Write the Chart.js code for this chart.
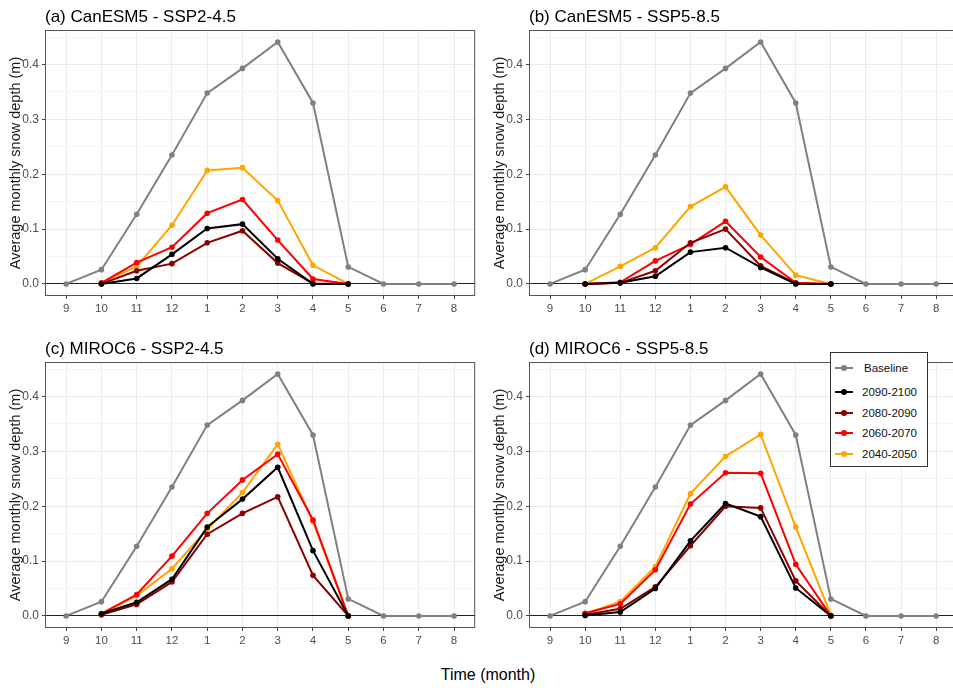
<!DOCTYPE html>
<html>
<head>
<meta charset="utf-8">
<script src="https://cdn.jsdelivr.net/npm/chart.js@4.4.1/dist/chart.umd.min.js"></script>
<style>
body { margin: 0; width: 953px; height: 688px; overflow: hidden; background: #fff; position: relative;
       font-family: "Liberation Sans", Arial, sans-serif; }
canvas { position: absolute; }
.title { position: absolute; font-size: 17px; line-height: 20px; color: #000; white-space: nowrap; }
#xtitle { position: absolute; left: 0; width: 976px; top: 665px; text-align: center; font-size: 16px; line-height: 20px; color: #000; }
#legend { position: absolute; left: 830px; top: 352px; width: 96px; height: 113px; border: 1px solid #333; background: #fff; }
.row { position: absolute; left: 0; height: 16px; width: 96px; }
.row .ln { position: absolute; left: 4px; top: 7px; width: 18px; height: 2px; }
.row .dt { position: absolute; left: 10px; top: 5px; width: 6px; height: 6px; border-radius: 50%; }
.row span { position: absolute; left: 31px; top: 0; font-size: 11.5px; line-height: 16px; color: #111; }
</style>
</head>
<body>
<canvas id="pa" width="478" height="330" style="left:0;top:0"></canvas>
<canvas id="pb" width="476" height="330" style="left:484px;top:0"></canvas>
<canvas id="pc" width="478" height="330" style="left:0;top:332px"></canvas>
<canvas id="pd" width="476" height="330" style="left:484px;top:332px"></canvas>
<div class="title" style="left:45px;top:7px">(a) CanESM5 - SSP2-4.5</div>
<div class="title" style="left:529px;top:7px">(b) CanESM5 - SSP5-8.5</div>
<div class="title" style="left:45px;top:339px">(c) MIROC6 - SSP2-4.5</div>
<div class="title" style="left:529px;top:339px">(d) MIROC6 - SSP5-8.5</div>
<div id="xtitle">Time (month)</div>
<div id="legend"></div>
<script>
// months on the x axis (Sept to Aug)
const months = ['9', '10', '11', '12', '1', '2', '3', '4', '5', '6', '7', '8'];
const yMajor = [0, 0.1, 0.2, 0.3, 0.4];
const yMinor = [0.05, 0.15, 0.25, 0.35, 0.45];

const seriesNames = ['Baseline', '2090-2100', '2080-2090', '2060-2070', '2040-2050'];
const seriesColors = ['#808080', '#000000', '#8b0000', '#ff0000', '#ffa500'];

// baseline is the same in every panel
const baseline = [0, 0.026, 0.127, 0.235, 0.348, 0.393, 0.441, 0.330, 0.031, 0, 0, 0];

// (a) CanESM5 - SSP2-4.5
const a2090 = [null, 0, 0.010, 0.054, 0.101, 0.109, 0.046, 0, 0, null, null, null];
const a2080 = [null, 0, 0.024, 0.037, 0.075, 0.097, 0.038, 0.001, 0, null, null, null];
const a2060 = [null, 0.002, 0.039, 0.067, 0.129, 0.154, 0.080, 0.009, 0, null, null, null];
const a2040 = [null, 0.002, 0.032, 0.107, 0.207, 0.212, 0.152, 0.034, 0, null, null, null];

// (b) CanESM5 - SSP5-8.5
const b2090 = [null, 0, 0.002, 0.014, 0.058, 0.066, 0.030, 0, 0, null, null, null];
const b2080 = [null, 0, 0.002, 0.024, 0.075, 0.100, 0.033, 0.001, 0, null, null, null];
const b2060 = [null, 0, 0.003, 0.042, 0.072, 0.114, 0.049, 0.002, 0, null, null, null];
const b2040 = [null, 0, 0.032, 0.066, 0.141, 0.177, 0.089, 0.016, 0, null, null, null];

// (c) MIROC6 - SSP2-4.5
const c2090 = [null, 0.004, 0.025, 0.067, 0.162, 0.213, 0.271, 0.119, 0, null, null, null];
const c2080 = [null, 0.002, 0.021, 0.062, 0.149, 0.187, 0.217, 0.074, 0, null, null, null];
const c2060 = [null, 0.004, 0.039, 0.109, 0.187, 0.248, 0.295, 0.175, 0, null, null, null];
const c2040 = [null, 0.003, 0.037, 0.086, 0.158, 0.225, 0.313, 0.172, 0, null, null, null];

// (d) MIROC6 - SSP5-8.5
const d2090 = [null, 0.001, 0.007, 0.050, 0.137, 0.205, 0.181, 0.051, 0, null, null, null];
const d2080 = [null, 0.002, 0.013, 0.053, 0.128, 0.200, 0.197, 0.064, 0, null, null, null];
const d2060 = [null, 0.005, 0.022, 0.084, 0.204, 0.261, 0.260, 0.094, 0, null, null, null];
const d2040 = [null, 0.004, 0.026, 0.090, 0.223, 0.291, 0.331, 0.162, 0.002, null, null, null];

// panel frame (theme_bw border)
const frame = {
    id: 'frame',
    afterDraw(chart) {
        const { ctx, chartArea: a } = chart;
        ctx.save();
        ctx.strokeStyle = '#555';
        ctx.lineWidth = 1;
        ctx.strokeRect(a.left + 0.5, a.top + 0.5, a.width - 1, a.height - 1);
        ctx.restore();
    }
};

function makeDatasets(future) {
    // dataset 0 is drawn on top, so black first and baseline last
    const order = [1, 2, 3, 4];
    const sets = order.map((k, i) => ({
        label: seriesNames[k],
        data: future[i].map((v, j) => ({ x: j, y: v })),
        borderColor: seriesColors[k],
        backgroundColor: seriesColors[k],
        borderWidth: 2,
        pointRadius: 2.8,
        pointHoverRadius: 2.8,
        pointBorderWidth: 0,
        spanGaps: false
    }));
    sets.push({
        label: seriesNames[0],
        data: baseline.map((v, j) => ({ x: j, y: v })),
        borderColor: seriesColors[0],
        backgroundColor: seriesColors[0],
        borderWidth: 2,
        pointRadius: 2.8,
        pointHoverRadius: 2.8,
        pointBorderWidth: 0
    });
    return sets;
}

function makeChart(id, future) {
    const ctx = document.getElementById(id).getContext('2d');
    return new Chart(ctx, {
        type: 'line',
        data: { datasets: makeDatasets(future) },
        plugins: [frame],
        options: {
            responsive: false,
            animation: false,
            events: [],
            layout: { padding: { top: 30, left: 0, right: 0, bottom: 0 } },
            plugins: { legend: { display: false }, tooltip: { enabled: false } },
            scales: {
                x: {
                    type: 'linear',
                    min: -0.6,
                    max: 11.6,
                    afterBuildTicks: s => { s.ticks = months.map((m, i) => ({ value: i })); },
                    afterFit: s => { s.height = 34; },
                    border: { display: false },
                    grid: { color: '#ebebeb', lineWidth: 1, tickLength: 3, tickColor: '#444' },
                    ticks: {
                        color: '#4d4d4d',
                        font: { family: 'Liberation Sans', size: 11.5 },
                        padding: 3,
                        maxRotation: 0,
                        callback: v => months[v]
                    }
                },
                y: {
                    type: 'linear',
                    min: -0.022,
                    max: 0.463,
                    afterBuildTicks: s => {
                        s.ticks = yMajor.concat(yMinor).sort((p, q) => p - q).map(v => ({ value: v }));
                    },
                    afterFit: s => { s.width = 45; },
                    border: { display: false },
                    grid: {
                        color: c => c.tick.value === 0 ? '#222' : (yMajor.includes(c.tick.value) ? '#ebebeb' : '#f4f4f4'),
                        lineWidth: 1,
                        tickLength: 3,
                        tickColor: c => yMajor.includes(c.tick.value) ? '#444' : 'rgba(0,0,0,0)'
                    },
                    ticks: {
                        color: '#4d4d4d',
                        font: { family: 'Liberation Sans', size: 12 },
                        padding: 3,
                        callback: v => yMajor.includes(v) ? v.toFixed(1) : ''
                    },
                    title: {
                        display: true,
                        text: 'Average monthly snow depth (m)',
                        color: '#1a1a1a',
                        font: { family: 'Liberation Sans', size: 14.5 },
                        padding: { top: 7, bottom: 0 }
                    }
                }
            }
        }
    });
}

makeChart('pa', [a2090, a2080, a2060, a2040]);
makeChart('pb', [b2090, b2080, b2060, b2040]);
makeChart('pc', [c2090, c2080, c2060, c2040]);
makeChart('pd', [d2090, d2080, d2060, d2040]);

// legend box inside panel (d)
const legend = document.getElementById('legend');
seriesNames.forEach((name, i) => {
    const row = document.createElement('div');
    row.className = 'row';
    row.style.top = (i === 0 ? 7 : 31 + (i - 1) * 20.7) + 'px';
    row.innerHTML = '<div class="ln" style="background:' + seriesColors[i] + '"></div>' +
        '<div class="dt" style="background:' + seriesColors[i] + '"></div>' +
        '<span' + (i === 0 ? ' style="left:33px"' : '') + '>' + name + '</span>';
    legend.appendChild(row);
});
</script>
</body>
</html>
